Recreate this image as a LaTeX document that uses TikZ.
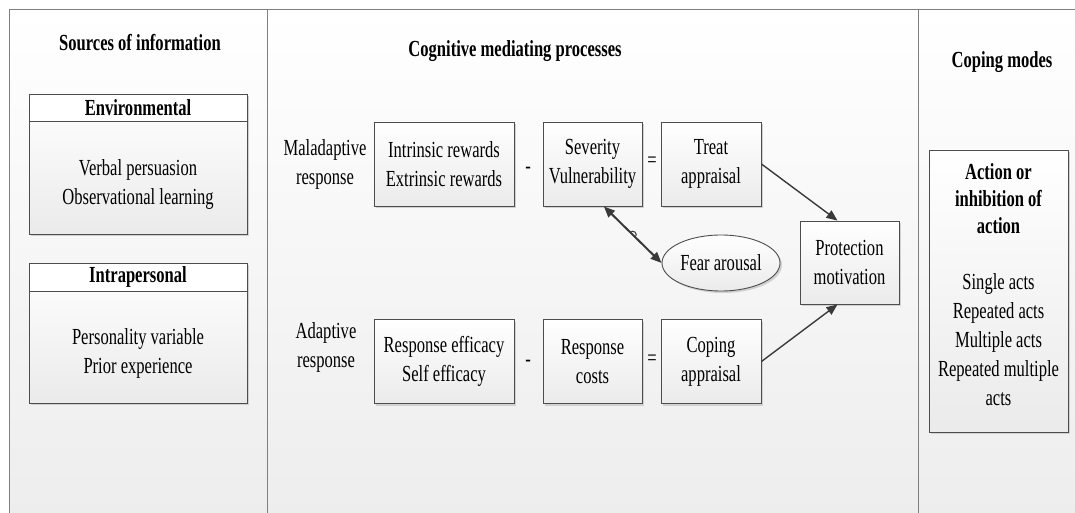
\documentclass[tikz,border=0pt]{standalone}
\usepackage{fontspec}
\setmainfont{Liberation Serif}[FakeStretch=0.72]
\usetikzlibrary{arrows.meta,positioning,calc,shapes.geometric,shadows}
\definecolor{frameGray}{HTML}{7F7F7F}
\definecolor{boxLine}{HTML}{4D4D4D}
\definecolor{arrowDark}{HTML}{3A3A3A}

\begin{document}
\begin{tikzpicture}[x=1pt,y=1pt,font=\fontsize{23}{29}\selectfont,
  txt/.style={align=center,inner sep=0pt},
  title/.style={txt,font=\fontsize{23}{27}\selectfont\bfseries},
  card/.style={draw=boxLine,line width=0.9pt,inner sep=0pt,top color=white,bottom color=black!8,
    drop shadow={shadow xshift=2pt,shadow yshift=-2pt,fill=black!18,opacity=1}},
  flow/.style={-{Triangle[length=11pt,width=9pt]},arrowDark,line width=1.4pt}]
\useasboundingbox (0,0) rectangle (1075,-513);
% panels
\shade[top color=white,bottom color=black!7] (9,-9) rectangle (1075,-513);
\draw[frameGray,line width=0.9pt] (9,-513) -- (9,-9) -- (1075,-9);
\foreach \x in {267,918}
  \draw[frameGray,line width=0.9pt] (\x,-9) -- (\x,-513);
\node[title] (srctitle) at (140,-43) {Sources of information};
\node[title] (cogtitle) at (515,-51) {Cognitive mediating processes};
\node[title] (coptitle) at (1002,-62) {Coping modes};
% sources of information
\node[card,minimum width=218,minimum height=140] (env) at (138,-164) {};
\node[draw=boxLine,line width=0.9pt,fill=white,minimum width=218,minimum height=27,anchor=north,
  font=\fontsize{23}{29}\selectfont\bfseries] (envhd) at (env.north) {Environmental};
\node[txt] (envtxt) at (138,-185) {Verbal persuasion\\Observational learning};
\node[card,minimum width=218,minimum height=140] (intra) at (138,-333) {};
\node[draw=boxLine,line width=0.9pt,fill=white,minimum width=218,minimum height=28,anchor=north,
  font=\fontsize{23}{29}\selectfont\bfseries] (intrahd) at (intra.north) {Intrapersonal};
\node[txt] (intratxt) at (138,-353) {Personality variable\\Prior experience};
% cognitive mediating processes
\node[txt] (mal) at (325,-164) {Maladaptive\\response};
\node[txt] (ada) at (326,-347) {Adaptive\\response};
\foreach \nm/\x/\y/\w/\lab in {intr/444/164/140/{Intrinsic rewards\\Extrinsic rewards},
    sev/592.5/164/99/{Severity\\Vulnerability},treat/711/164/100/{Treat\\appraisal},
    eff/444/361.5/140/{Response efficacy\\Self efficacy},cost/592.5/361.5/99/{Response\\costs},
    cope/711/361.5/100/{Coping\\appraisal}}
  \node[card,txt,minimum width=\w,minimum height=84] (\nm) at (\x,-\y) {\lab};
\node[txt] (minA) at (528,-170) {-};
\node[txt] (eqA) at (652,-162) {=};
\node[txt] (minB) at (528,-363) {-};
\node[txt] (eqB) at (652,-360) {=};
\node[card,txt,ellipse,minimum width=118,minimum height=56] (fear) at (721,-263) {Fear arousal};
\node[card,txt,minimum width=99,minimum height=83] (prot) at (849.5,-262.5) {Protection\\motivation};
\draw[flow,{Triangle[length=11pt,width=9pt]}-{Triangle[length=11pt,width=9pt]},line width=2pt]
  (sev.-75) -- (fear.west) coordinate[pos=0.5] (hop);
\draw[arrowDark,line width=1pt] ($(hop)+(138:3.5)$) arc[start angle=138,end angle=-42,radius=3.5];
\draw[flow] (treat.east) -- (prot.106);
\draw[flow] (cope.east) -- (prot.-106);
% coping modes
\node[card,minimum width=139,minimum height=282] (act) at (998.5,-291) {};
\node[title] (acthd) at (998.5,-199) {Action or\\inhibition of\\action};
\node[txt] (actlist) at (998.5,-340) {Single acts\\Repeated acts\\Multiple acts\\Repeated multiple\\acts};
\end{tikzpicture}
\end{document}
